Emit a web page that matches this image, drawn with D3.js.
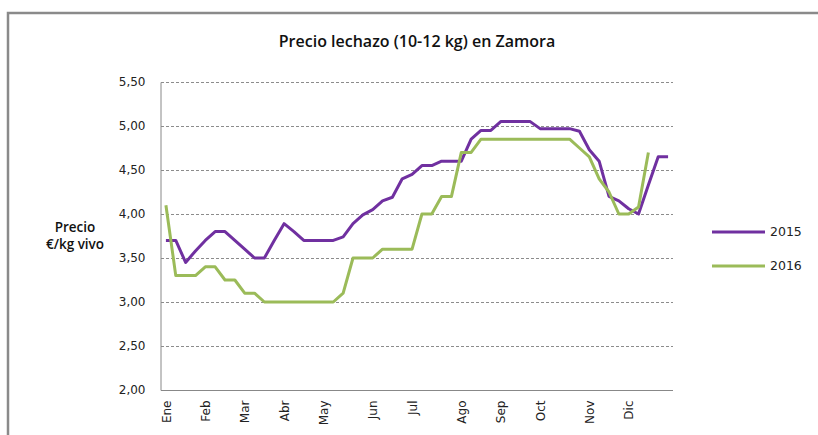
<!DOCTYPE html>
<html>
<head>
<meta charset="utf-8">
<script src="https://cdn.jsdelivr.net/npm/d3@7"></script>
<style>
    body { margin: 0; background: #fff; }
    svg { display: block; }
</style>
</head>
<body>
<div id="chart"></div>
<script>
// Precio lechazo (10-12 kg) en Zamora, weekly, 2015 vs 2016

// data
// ------------------------------------------------------

const categories = [
    "Ene", "", "", "", "Feb", "", "", "", "Mar", "", "", "", "Abr", "",
    "", "", "May", "", "", "", "", "Jun", "", "", "", "Jul", "", "",
    "", "", "Ago", "", "", "", "Sep", "", "", "", "Oct", "", "", "",
    "", "Nov", "", "", "", "Dic", "", "", "", ""
];

const values2015 = [
    3.70, 3.70, 3.45, 3.58, 3.70, 3.80, 3.80, 3.70, 3.60, 3.50,
    3.50, 3.70, 3.89, 3.80, 3.70, 3.70, 3.70, 3.70, 3.74, 3.89,
    3.99, 4.05, 4.15, 4.19, 4.40, 4.45, 4.55, 4.55, 4.60, 4.60,
    4.60, 4.85, 4.95, 4.95, 5.05, 5.05, 5.05, 5.05, 4.97, 4.97,
    4.97, 4.97, 4.94, 4.73, 4.60, 4.20, 4.15, 4.06, 4.00, 4.33,
    4.65, 4.65
];

const values2016 = [
    4.10, 3.30, 3.30, 3.30, 3.40, 3.40, 3.25, 3.25, 3.10, 3.10,
    3.00, 3.00, 3.00, 3.00, 3.00, 3.00, 3.00, 3.00, 3.10, 3.50,
    3.50, 3.50, 3.60, 3.60, 3.60, 3.60, 4.00, 4.00, 4.20, 4.20,
    4.70, 4.70, 4.85, 4.85, 4.85, 4.85, 4.85, 4.85, 4.85, 4.85,
    4.85, 4.85, 4.75, 4.65, 4.40, 4.25, 4.00, 4.00, 4.08, 4.70,
    null, null
];

const seriesNames = ["2015", "2016"];
const seriesColors = ["#7030a0", "#9bbb59"];
const yTicks = [2.0, 2.5, 3.0, 3.5, 4.0, 4.5, 5.0, 5.5];

// layout
// ------------------------------------------------------

let width = 818,
    height = 435,
    plotLeft = 161,
    plotRight = 673,
    plotTop = 82,
    plotBottom = 390;

let svg = d3.select("#chart").append("svg")
    .attr("width", width)
    .attr("height", height);

// chart area frame (cut by the picture edge on right and bottom)
svg.append("rect")
    .attr("x", 8)
    .attr("y", 13)
    .attr("width", width + 20)
    .attr("height", height + 20)
    .attr("fill", "none")
    .attr("stroke", "#8a8a8a")
    .attr("stroke-width", 2.5);

// scales
// ------------------------------------------------------

let xScale = d3.scalePoint()
    .domain(d3.range(categories.length))
    .range([plotLeft, plotRight])
    .padding(0.5);

let yScale = d3.scaleLinear()
    .domain([2, 5.5])
    .range([plotBottom, plotTop]);

let locale = d3.formatLocale({ decimal: ",", thousands: ".", grouping: [3], currency: ["", " €"] });
let yFormat = locale.format(".2f");

// grid
// ------------------------------------------------------

svg.append("g")
    .attr("class", "grid")
    .selectAll("line")
    .data(yTicks.filter(d => d > 2))
    .join("line")
        .attr("x1", plotLeft)
        .attr("x2", plotRight)
        .attr("y1", d => Math.round(yScale(d)) + 0.5)
        .attr("y2", d => Math.round(yScale(d)) + 0.5)
        .attr("stroke", "#8c8c8c")
        .attr("stroke-width", 1)
        .attr("stroke-dasharray", "3,2");

// axes
// ------------------------------------------------------

let leftAxis = svg.append("g")
    .attr("transform", `translate(${plotLeft - 0.5}, 0)`)
    .call(d3.axisLeft(yScale)
        .tickValues(yTicks)
        .tickFormat(yFormat)
        .tickSize(0)
        .tickPadding(15));

leftAxis.select(".domain").attr("stroke", "#888");
leftAxis.selectAll("text")
    .attr("font-family", "DejaVu Sans, Verdana, sans-serif")
    .attr("font-size", 12)
    .attr("fill", "#222");

let bottomAxis = svg.append("g")
    .attr("transform", `translate(0, ${plotBottom + 0.5})`)
    .call(d3.axisBottom(xScale)
        .tickValues(xScale.domain().filter(i => categories[i] !== ""))
        .tickFormat(i => categories[i])
        .tickSize(0)
        .tickSizeOuter(0));

bottomAxis.select(".domain")
    .attr("stroke", "#888")
    .attr("d", `M${plotLeft},0H${plotRight}`);
bottomAxis.selectAll("text")
    .attr("font-family", "DejaVu Sans, Verdana, sans-serif")
    .attr("font-size", 12)
    .attr("fill", "#222")
    .attr("text-anchor", "end")
    .attr("dy", "0.35em")
    .attr("transform", "translate(0, 10) rotate(-90)")
    .attr("x", 0)
    .attr("y", 0);

// lines
// ------------------------------------------------------

let line = d3.line()
    .defined(d => d !== null)
    .x((d, i) => xScale(i))
    .y(d => yScale(d));

svg.append("g")
    .selectAll("path")
    .data([values2015, values2016])
    .join("path")
        .attr("d", line)
        .attr("fill", "none")
        .attr("stroke", (d, i) => seriesColors[i])
        .attr("stroke-width", 3)
        .attr("stroke-linejoin", "round");

// titles
// ------------------------------------------------------

svg.append("text")
    .attr("x", 417)
    .attr("y", 47)
    .attr("text-anchor", "middle")
    .attr("font-family", "Open Sans, sans-serif")
    .attr("font-weight", 600)
    .attr("font-size", 16)
    .attr("fill", "#111")
    .text("Precio lechazo (10-12 kg) en Zamora");

let yTitle = svg.append("text")
    .attr("text-anchor", "middle")
    .attr("font-family", "Open Sans, sans-serif")
    .attr("font-weight", 600)
    .attr("font-size", 13.5)
    .attr("fill", "#111");
yTitle.append("tspan").attr("x", 75).attr("y", 232).text("Precio");
yTitle.append("tspan").attr("x", 75).attr("y", 249).text("€/kg vivo");

// legend
// ------------------------------------------------------

let legend = svg.append("g")
    .selectAll("g")
    .data(seriesNames)
    .join("g")
        .attr("transform", (d, i) => `translate(712, ${232 + i * 34})`);

legend.append("line")
    .attr("x1", 0)
    .attr("x2", 53)
    .attr("stroke", (d, i) => seriesColors[i])
    .attr("stroke-width", 3);

legend.append("text")
    .attr("x", 58)
    .attr("dy", "0.35em")
    .attr("font-family", "DejaVu Sans, Verdana, sans-serif")
    .attr("font-size", 12.5)
    .attr("fill", "#222")
    .text(d => d);
</script>
</body>
</html>
